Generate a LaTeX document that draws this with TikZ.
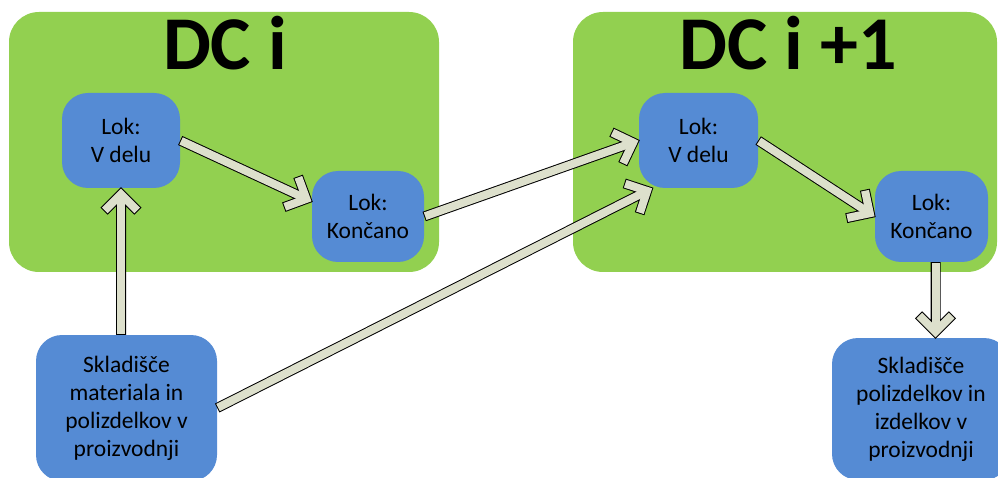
\documentclass[tikz,border=0pt]{standalone}
\usepackage{fontspec}
\setmainfont{Carlito}
\usetikzlibrary{calc}
\definecolor{boxgreen}{RGB}{146,208,80}
\definecolor{boxblue}{RGB}{85,139,212}
\definecolor{arrowbeige}{RGB}{221,224,204}
\tikzset{
  greenbox/.style={fill=boxgreen, rounded corners=30pt, inner sep=0pt},
  bluebox/.style={fill=boxblue, rounded corners=26pt, inner sep=0pt, align=center,
    font=\fontsize{23.5}{28}\selectfont},
  titletext/.style={anchor=base, inner sep=0pt, font=\fontsize{76}{80}\selectfont\bfseries},
  arrowline/.style={draw=black, line width=10pt, line join=miter, line cap=butt},
  arrowfill/.style={draw=arrowbeige, line width=8pt, line join=miter, line cap=butt}
}
\newcommand\fatarrow[2]{%
  \coordinate (ta) at (#1);
  \coordinate (tb) at (#2);
  \coordinate (tc) at ($(tb)!6pt!(ta)$);
  \coordinate (ha) at ($(tc)!24pt!45:(ta)$);
  \coordinate (hb) at ($(tc)!24pt!-45:(ta)$);
  \draw[arrowline] (ta) -- (tc) (ha) -- (tc) -- (hb);
  \draw[arrowfill, shorten <=1pt] (ta) -- (tc);
  \draw[arrowfill, shorten <=1pt, shorten >=1pt] (ha) -- (tc) -- (hb);
}
\begin{document}
\begin{tikzpicture}[x=1pt, y=-1pt]
\useasboundingbox (0,0) rectangle (998,478);
\clip (0,0) rectangle (998,478);
% green containers
\node[greenbox, minimum width=430pt, minimum height=260pt] (gL) at (224,142) {};
\node[greenbox, minimum width=424pt, minimum height=260pt] (gR) at (785,142) {};
% titles
\node[titletext] (tL) at (225,70) {DC i};
\node[titletext] (tR) at (788,70) {DC i +1};
% blue boxes
\node[bluebox, minimum width=118pt, minimum height=95pt] (lv) at (121,140.5) {Lok:\\V delu};
\node[bluebox, minimum width=112pt, minimum height=91pt] (lk) at (368,216.5) {Lok:\\Končano};
\node[bluebox, minimum width=119pt, minimum height=95pt] (rv) at (698.5,140.5) {Lok:\\V delu};
\node[bluebox, minimum width=113pt, minimum height=91pt] (rk) at (931.5,216.5) {Lok:\\Končano};
\node[bluebox, minimum width=181pt, minimum height=146pt] (sL) at (126.5,408) {Skladišče\\materiala in\\polizdelkov v\\proizvodnji};
\node[bluebox, minimum width=178pt, minimum height=142pt] (sR) at (921,409) {Skladišče\\polizdelkov in\\izdelkov v\\proizvodnji};
% arrows
\fatarrow{lv.east}{lk.165}
\fatarrow{lv.south |- sL.north}{lv.south}
\fatarrow{lk.east}{rv.west}
\fatarrow{sL.east}{rv.226}
\fatarrow{rv.east}{rk.west}
\fatarrow{rk.-85}{rk.-85 |- sR.north}
\end{tikzpicture}
\end{document}
